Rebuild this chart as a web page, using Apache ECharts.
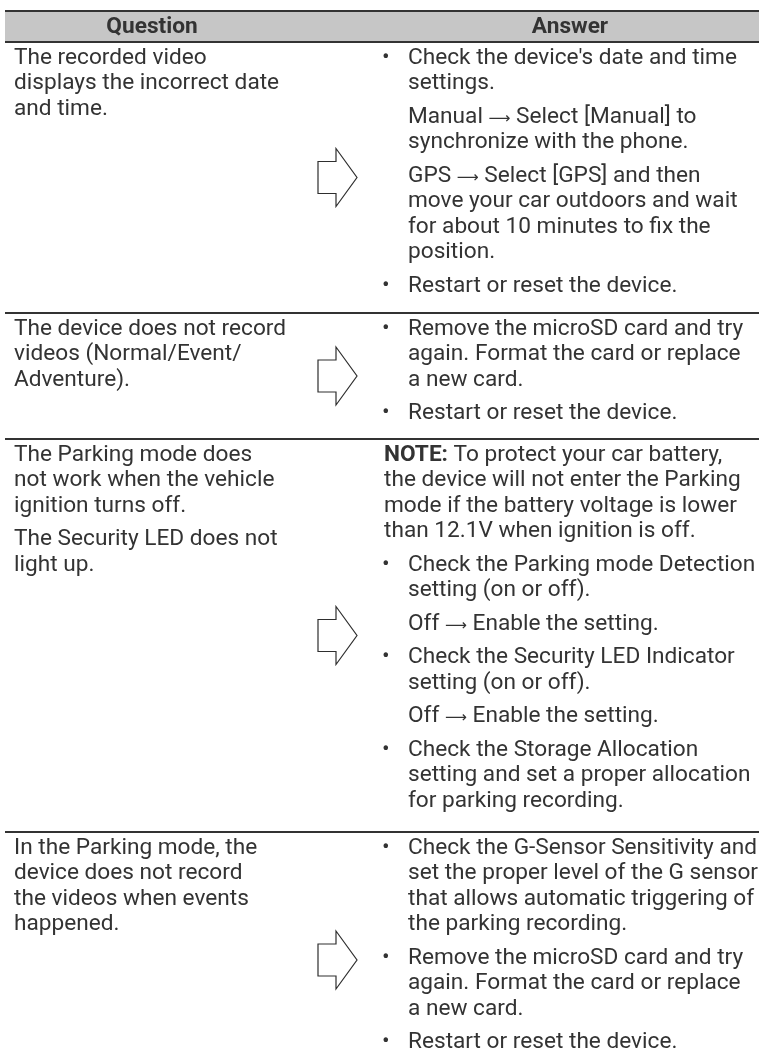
<!DOCTYPE html>
<html><head><meta charset="utf-8">
<script src="https://cdn.jsdelivr.net/npm/echarts@6/dist/echarts.min.js"></script>
<style>html,body{margin:0;padding:0;background:#fff}#c{width:759px;height:1063px}</style>
</head><body><div id="c"></div>
<script>
// ---- data (text content of the table) ----
const headers = ['Question', 'Answer'];
const questions = [
  [['The recorded video', 'displays the incorrect date', 'and time.']],
  [['The device does not record', 'videos (Normal/Event/', 'Adventure).']],
  [['The Parking mode does', 'not work when the vehicle', 'ignition turns off.'], ['The Security LED does not', 'light up.']],
  [['In the Parking mode, the', 'device does not record', 'the videos when events', 'happened.']]
];
const answers = [
  [
    ['• Check the device\'s date and time', 'settings.'],
    ['Manual → Select [Manual] to', 'synchronize with the phone.'],
    ['GPS → Select [GPS] and then', 'move your car outdoors and wait', 'for about 10 minutes to fix the', 'position.'],
    ['• Restart or reset the device.']
  ],
  [
    ['• Remove the microSD card and try', 'again. Format the card or replace', 'a new card.'],
    ['• Restart or reset the device.']
  ],
  [
    ['NOTE: To protect your car battery,', 'the device will not enter the Parking', 'mode if the battery voltage is lower', 'than 12.1V when ignition is off.'],
    ['• Check the Parking mode Detection', 'setting (on or off).'],
    ['Off → Enable the setting.'],
    ['• Check the Security LED Indicator', 'setting (on or off).'],
    ['Off → Enable the setting.'],
    ['• Check the Storage Allocation', 'setting and set a proper allocation', 'for parking recording.']
  ],
  [
    ['• Check the G-Sensor Sensitivity and', 'set the proper level of the G sensor', 'that allows automatic triggering of', 'the parking recording.'],
    ['• Remove the microSD card and try', 'again. Format the card or replace', 'a new card.'],
    ['• Restart or reset the device.']
  ]
];

// ---- layout ----
const FAMILY = 'Roboto, "DejaVu Sans", sans-serif';
const ctx = document.createElement('canvas').getContext('2d');
function tw(s, size, weight, fam) { ctx.font = (weight || 'normal') + ' ' + size + 'px ' + (fam || FAMILY); return ctx.measureText(s).width; }
const FS = 20 * ((264 / tw('displays the incorrect date', 20)) + (349 / tw('Check the Parking mode Detection', 20))) / 2;
const ARROW_FAM = '"DejaVu Sans"';
const AFS = Math.min(FS, 20 * 22 / tw('\u27F6', 20, 'normal', ARROW_FAM));
const TEXT = '#333333', LINE = '#333333';
const L = 25.5, G = 8, PAD_TOP = 15;
const rowEdges = [42, 313, 439, 832, 1088];
const X0 = 5, X1 = 759, QX = 14, BX = 382, AX = 408, NX = 384;
const RICH = {
  b: { fontWeight: 'bold', fontSize: FS, fontFamily: FAMILY, fill: TEXT },
  a: { fontSize: AFS, fontFamily: ARROW_FAM, fill: TEXT, fontWeight: 'normal', padding: [4, 0, 0, 0] }
};

const els = [];
els.push({ type: 'rect', shape: { x: X0, y: 11, width: X1 - X0, height: 31 }, style: { fill: '#c6c6c6' }, silent: true });
function hline(y, w) { els.push({ type: 'line', shape: { x1: X0, y1: y, x2: X1, y2: y }, style: { stroke: LINE, lineWidth: w }, silent: true }); }
hline(11, 2); hline(42, 1.8);
for (let r = 1; r < rowEdges.length - 1; r++) hline(rowEdges[r], 1.8);

function markup(s) {
  return s.replace(/^NOTE:/, '{b|NOTE:}').replace(/ → /g, ' {a|\u27F6} ');
}
function txt(x, y, s, opts) {
  opts = opts || {};
  const st = { text: opts.raw ? s : markup(s), fontSize: FS, fontFamily: FAMILY, fontWeight: opts.weight || 'normal', fill: TEXT,
    textAlign: opts.align || 'left', textVerticalAlign: 'middle', align: opts.align || 'left', verticalAlign: 'middle', rich: RICH };
  els.push({ type: 'text', x: x, y: y, style: st, silent: true });
}
txt(152, 27, headers[0], { weight: 'bold', align: 'center', raw: true });
txt(570, 27, headers[1], { weight: 'bold', align: 'center', raw: true });

questions.forEach((paras, r) => {
  let y = rowEdges[r] + PAD_TOP + 1;
  paras.forEach((p, pi) => {
    if (pi > 0) y += G;
    p.forEach(line => { txt(QX, y, line); y += L; });
  });
});
answers.forEach((paras, r) => {
  let y = rowEdges[r] + PAD_TOP + 1;
  paras.forEach((p, pi) => {
    if (pi > 0) y += G;
    const isBullet = p[0].indexOf('• ') === 0;
    const isNote = p[0].indexOf('NOTE:') === 0;
    p.forEach((line, li) => {
      if (li === 0 && isBullet) {
        txt(BX, y, '•', { raw: true });
        txt(AX, y, line.slice(2));
      } else if (isNote) {
        txt(NX, y, line);
      } else {
        txt(AX, y, line);
      }
      y += L;
    });
  });
  const cy = (rowEdges[r] + rowEdges[r + 1]) / 2;
  els.push({ type: 'polygon', shape: { points: [[318, cy - 16], [336, cy - 16], [336, cy - 29], [357, cy], [336, cy + 29], [336, cy + 16], [318, cy + 16]] },
    style: { fill: '#fff', stroke: '#2e2e2e', lineWidth: 1.2 }, silent: true });
});

const chart = echarts.init(document.getElementById('c'), null, { renderer: 'canvas' });
chart.setOption({ animation: false, graphic: { elements: els } });
</script></body></html>
